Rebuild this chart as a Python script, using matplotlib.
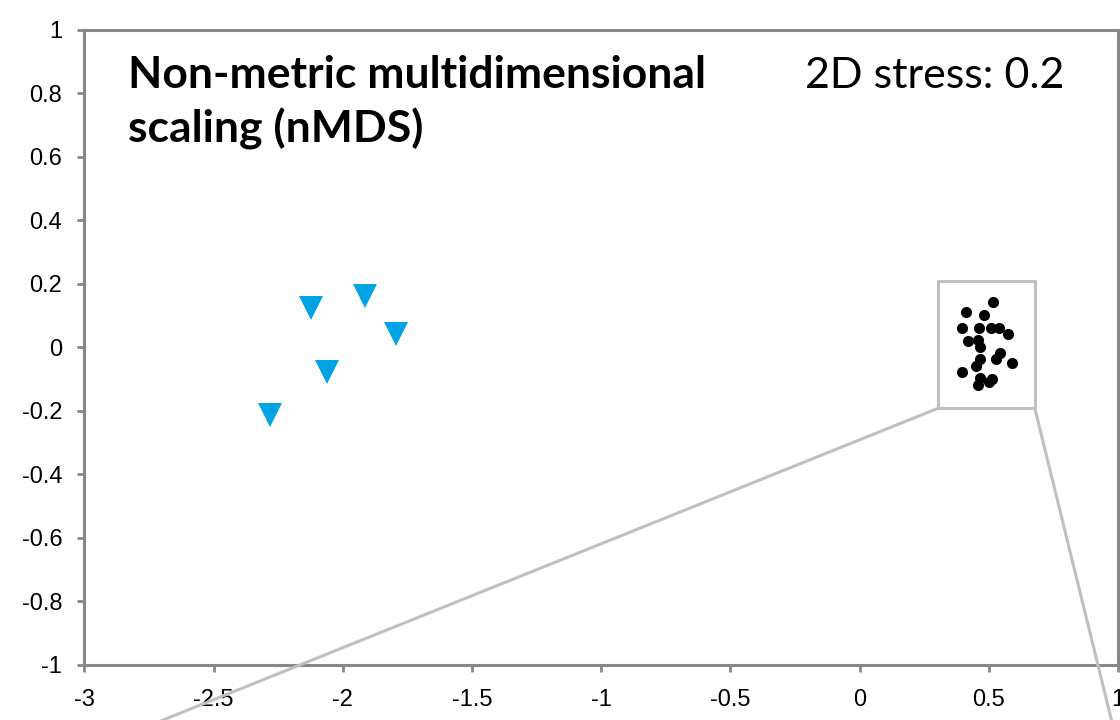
import matplotlib
matplotlib.use("Agg")
import matplotlib.pyplot as plt

# ── data ──────────────────────────────────────────────────────────────────────
# group A: blue down-triangles
tri_x = [-2.124, -1.915, -1.794, -2.062, -2.283]
tri_y = [0.123, 0.162, 0.041, -0.078, -0.212]

# group B: tight cluster of black dots
dot_x = [0.516, 0.410, 0.481, 0.396, 0.461, 0.509, 0.539, 0.576, 0.419, 0.460,
         0.467, 0.545, 0.529, 0.467, 0.449, 0.589, 0.397, 0.467, 0.513, 0.500,
         0.460]
dot_y = [0.142, 0.111, 0.102, 0.060, 0.060, 0.060, 0.060, 0.043, 0.021, 0.024,
         0.001, -0.016, -0.037, -0.037, -0.058, -0.050, -0.078, -0.097, -0.099,
         -0.108, -0.118]

# zoom box round the cluster and the two leader lines towards the (cropped) inset
box_x = [0.305, 0.678, 0.678, 0.305, 0.305]
box_y = [-0.191, -0.191, 0.209, 0.209, -0.191]
lead_left_x = [0.305, -3.083]
lead_left_y = [-0.191, -1.30]
lead_right_x = [0.678, 1.013]
lead_right_y = [-0.191, -1.30]

x_ticks = [-3, -2.5, -2, -1.5, -1, -0.5, 0, 0.5, 1]
y_ticks = [1, 0.8, 0.6, 0.4, 0.2, 0, -0.2, -0.4, -0.6, -0.8, -1]

TITLE = "Non-metric multidimensional\nscaling (nMDS)"
STRESS = "2D stress: 0.2"

# ── style ─────────────────────────────────────────────────────────────────────
SPINE = "#878787"
BOX = "#c0c0c0"
BLUE = "#00a3e4"
TICK_FS = 17

plt.rcParams["font.family"] = ["Liberation Sans", "DejaVu Sans"]

fig = plt.figure(figsize=(11.2, 7.2), dpi=100)
ax = fig.add_axes([0.0754, 0.0764, 0.9228, 0.882])

ax.plot(tri_x, tri_y, linestyle="none", marker="v", markersize=17,
        color=BLUE, markeredgewidth=0, zorder=3)
ax.plot(dot_x, dot_y, linestyle="none", marker="o", markersize=8,
        color="black", markeredgewidth=0, zorder=3)

ax.plot(box_x, box_y, color=BOX, linewidth=2.2, zorder=2)
ax.plot(lead_left_x, lead_left_y, color=BOX, linewidth=2.2, zorder=5,
        clip_on=False)
ax.plot(lead_right_x, lead_right_y, color=BOX, linewidth=2.2, zorder=5,
        clip_on=False)

ax.set_xlim(-3, 1)
ax.set_ylim(-1, 1)
ax.set_xticks(x_ticks)
ax.set_xticklabels([f"{v:g}" for v in x_ticks], fontsize=TICK_FS)
ax.set_yticks(y_ticks)
ax.set_yticklabels([f"{v:g}" for v in y_ticks], fontsize=TICK_FS)

for s in ax.spines.values():
    s.set_color(SPINE)
    s.set_linewidth(2.2)
ax.tick_params(direction="out", length=5, width=2, color=SPINE,
               labelcolor="black")
ax.tick_params(axis="y", pad=11)
ax.tick_params(axis="x", pad=12)

# last line's baseline is the anchor for va="baseline"
fig.text(128 / 1120, 1 - 142 / 720, TITLE, fontsize=32, fontweight="bold",
         family=["Lato", "DejaVu Sans"], ha="left", va="baseline",
         linespacing=1.35)
fig.text(805 / 1120, 1 - 88 / 720, STRESS, fontsize=31,
         family=["Lato", "DejaVu Sans"], ha="left", va="baseline")

fig.savefig("out.png", dpi=100)
plt.close(fig)
